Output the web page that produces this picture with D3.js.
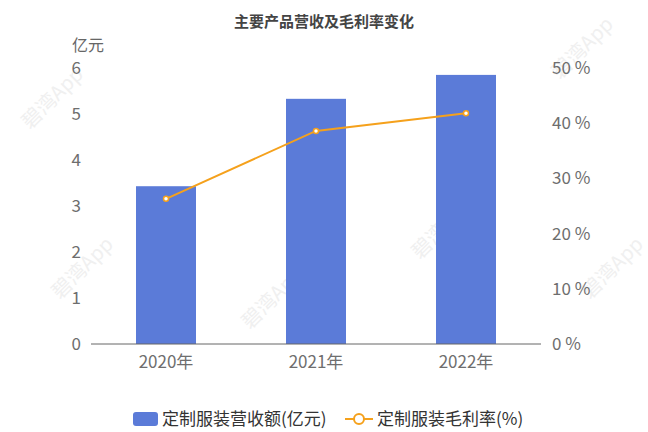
<!DOCTYPE html>
<html><head><meta charset="utf-8">
<script src="https://cdn.jsdelivr.net/npm/d3@7"></script>
<style>body{margin:0;background:#fff}text{font-family:"Noto Sans CJK SC","Noto Sans",sans-serif}</style>
</head><body><svg id="c" width="648" height="432"></svg>
<script>
const years = ["2020年", "2021年", "2022年"];
const revenue = [3.43, 5.33, 5.85];
const margin = [26.3, 38.6, 41.8];
const leftTicks = [0, 1, 2, 3, 4, 5, 6];
const rightTicks = [0, 10, 20, 30, 40, 50];

const svg = d3.select("#c");
const x = d3.scaleBand().domain(years).range([91, 541]).paddingInner(0.6).paddingOuter(0.3);
const yL = d3.scaleLinear().domain([0, 6]).range([344, 68]);
const yR = d3.scaleLinear().domain([0, 50]).range([344, 68]);

// watermarks
const wm = [[30,130],[250,330],[420,260],[560,80],[590,300],[60,300]];
wm.forEach(([a,b]) => svg.append("text").attr("transform", `translate(${a},${b}) rotate(-45)`)
  .attr("fill", "#f0f0f0").attr("font-size", 20).attr("font-family", "DejaVu Serif").text("碧湾App"));

svg.append("text").attr("x", 324).attr("y", 27).attr("text-anchor", "middle")
  .attr("font-size", 15).attr("font-weight", "bold").attr("fill", "#444").text("主要产品营收及毛利率变化");
svg.append("text").attr("x", 72).attr("y", 51).attr("font-size", 16).attr("fill", "#666").text("亿元");

const grey = "#6e6e6e";
leftTicks.forEach(t => svg.append("text").attr("x", 81).attr("y", yL(t) + 6).attr("text-anchor", "end")
  .attr("font-size", 17).attr("fill", grey).text(t));
rightTicks.forEach(t => svg.append("text").attr("x", 552).attr("y", yR(t) + 6)
  .attr("font-size", 17).attr("fill", grey).text(t + " %"));

svg.selectAll("rect.bar").data(revenue).join("rect").attr("class", "bar")
  .attr("x", (d, i) => x(years[i])).attr("width", x.bandwidth())
  .attr("y", d => yL(d)).attr("height", d => yL(0) - yL(d)).attr("fill", "#5b7bd8");

svg.append("line").attr("x1", 91).attr("x2", 541).attr("y1", 344).attr("y2", 344).attr("stroke", "#666");
years.forEach(y => {
  svg.append("text").attr("x", x(y) + x.bandwidth() / 2).attr("y", 368).attr("text-anchor", "middle")
    .attr("font-size", 17).attr("fill", grey).text(y);
});

const line = d3.line().x((d, i) => x(years[i]) + x.bandwidth() / 2).y(d => yR(d));
svg.append("path").datum(margin).attr("d", line).attr("fill", "none").attr("stroke", "#f5a11c").attr("stroke-width", 2);
svg.selectAll("circle.pt").data(margin).join("circle").attr("class", "pt")
  .attr("cx", (d, i) => x(years[i]) + x.bandwidth() / 2).attr("cy", d => yR(d))
  .attr("r", 2.5).attr("fill", "#fff").attr("stroke", "#f5a11c").attr("stroke-width", 1.5);

// legend
const lg = svg.append("g");
lg.append("rect").attr("x", 133).attr("y", 412).attr("width", 25).attr("height", 14).attr("rx", 3).attr("fill", "#5b7bd8");
lg.append("text").attr("x", 162).attr("y", 425).attr("font-size", 17).attr("fill", "#333").text("定制服装营收额(亿元)");
lg.append("line").attr("x1", 345).attr("x2", 373).attr("y1", 419).attr("y2", 419).attr("stroke", "#f5a11c").attr("stroke-width", 2);
lg.append("circle").attr("cx", 359).attr("cy", 419).attr("r", 5).attr("fill", "#fff").attr("stroke", "#f5a11c").attr("stroke-width", 2);
lg.append("text").attr("x", 377).attr("y", 425).attr("font-size", 17).attr("fill", "#333").text("定制服装毛利率(%)");
</script></body></html>
